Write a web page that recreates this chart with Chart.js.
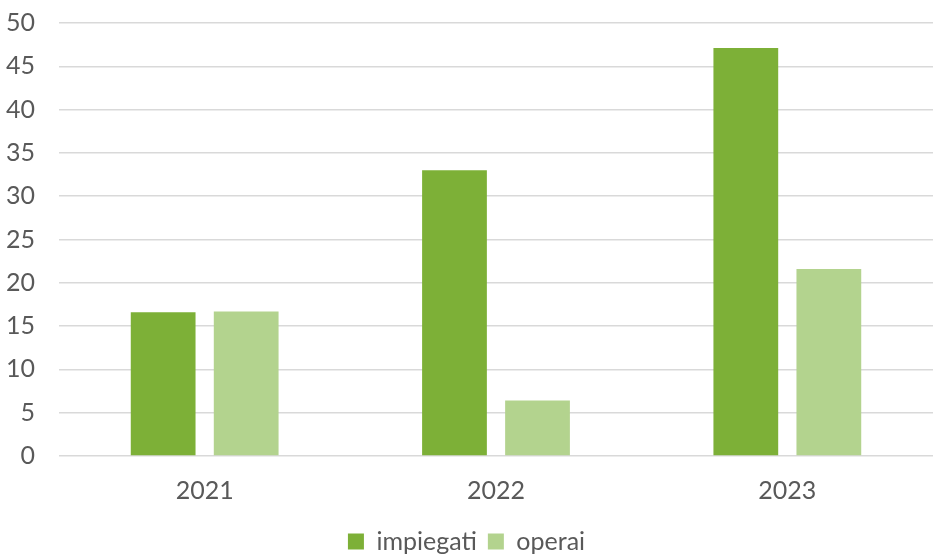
<!DOCTYPE html>
<html>
<head>
<meta charset="utf-8">
<script src="https://cdn.jsdelivr.net/npm/chart.js@4"></script>
<style>
    html, body { margin: 0; padding: 0; background: #ffffff; }
    #wrap { width: 933px; height: 556px; }
</style>
</head>
<body>
<div id="wrap"><canvas id="staffChart"></canvas></div>
<script>
const years = ['2021', '2022', '2023'];
const impiegati = [16.6, 33.0, 47.1];
const operai = [16.7, 6.4, 21.6];

const ctx = document.getElementById('staffChart').getContext('2d');
new Chart(ctx, {
    type: 'bar',
    data: {
        labels: years,
        datasets: [{
            label: 'impiegati',
            data: impiegati,
            backgroundColor: '#7db037',
            categoryPercentage: 0.57,
            barPercentage: 0.78
        }, {
            label: 'operai',
            data: operai,
            backgroundColor: '#b3d38e',
            categoryPercentage: 0.57,
            barPercentage: 0.78
        }]
    },
    options: {
        responsive: true,
        maintainAspectRatio: false,
        animation: false,
        layout: {
            padding: { top: 0, right: 0, left: 0, bottom: -8 }
        },
        scales: {
            x: {
                grid: { display: false },
                border: { display: false },
                ticks: {
                    color: '#595959',
                    font: { family: 'Lato', size: 25 },
                    padding: 12
                },
                afterFit: (scale) => {
                    scale.paddingLeft = 0;
                    scale.paddingRight = 0;
                }
            },
            y: {
                min: 0,
                max: 50,
                ticks: {
                    stepSize: 5,
                    color: '#595959',
                    font: { family: 'Lato', size: 25 },
                    padding: 24
                },
                grid: {
                    color: '#d9d9d9',
                    lineWidth: 1.5,
                    drawTicks: false
                },
                border: { display: false },
                afterFit: (scale) => {
                    scale.width = 59;
                    scale.paddingTop = 23;
                }
            }
        },
        plugins: {
            legend: {
                position: 'bottom',
                labels: {
                    color: '#595959',
                    font: { family: 'Lato', size: 25 },
                    boxWidth: 16,
                    boxHeight: 16,
                    padding: 11
                }
            },
            tooltip: { enabled: false }
        }
    }
});
</script>
</body>
</html>
